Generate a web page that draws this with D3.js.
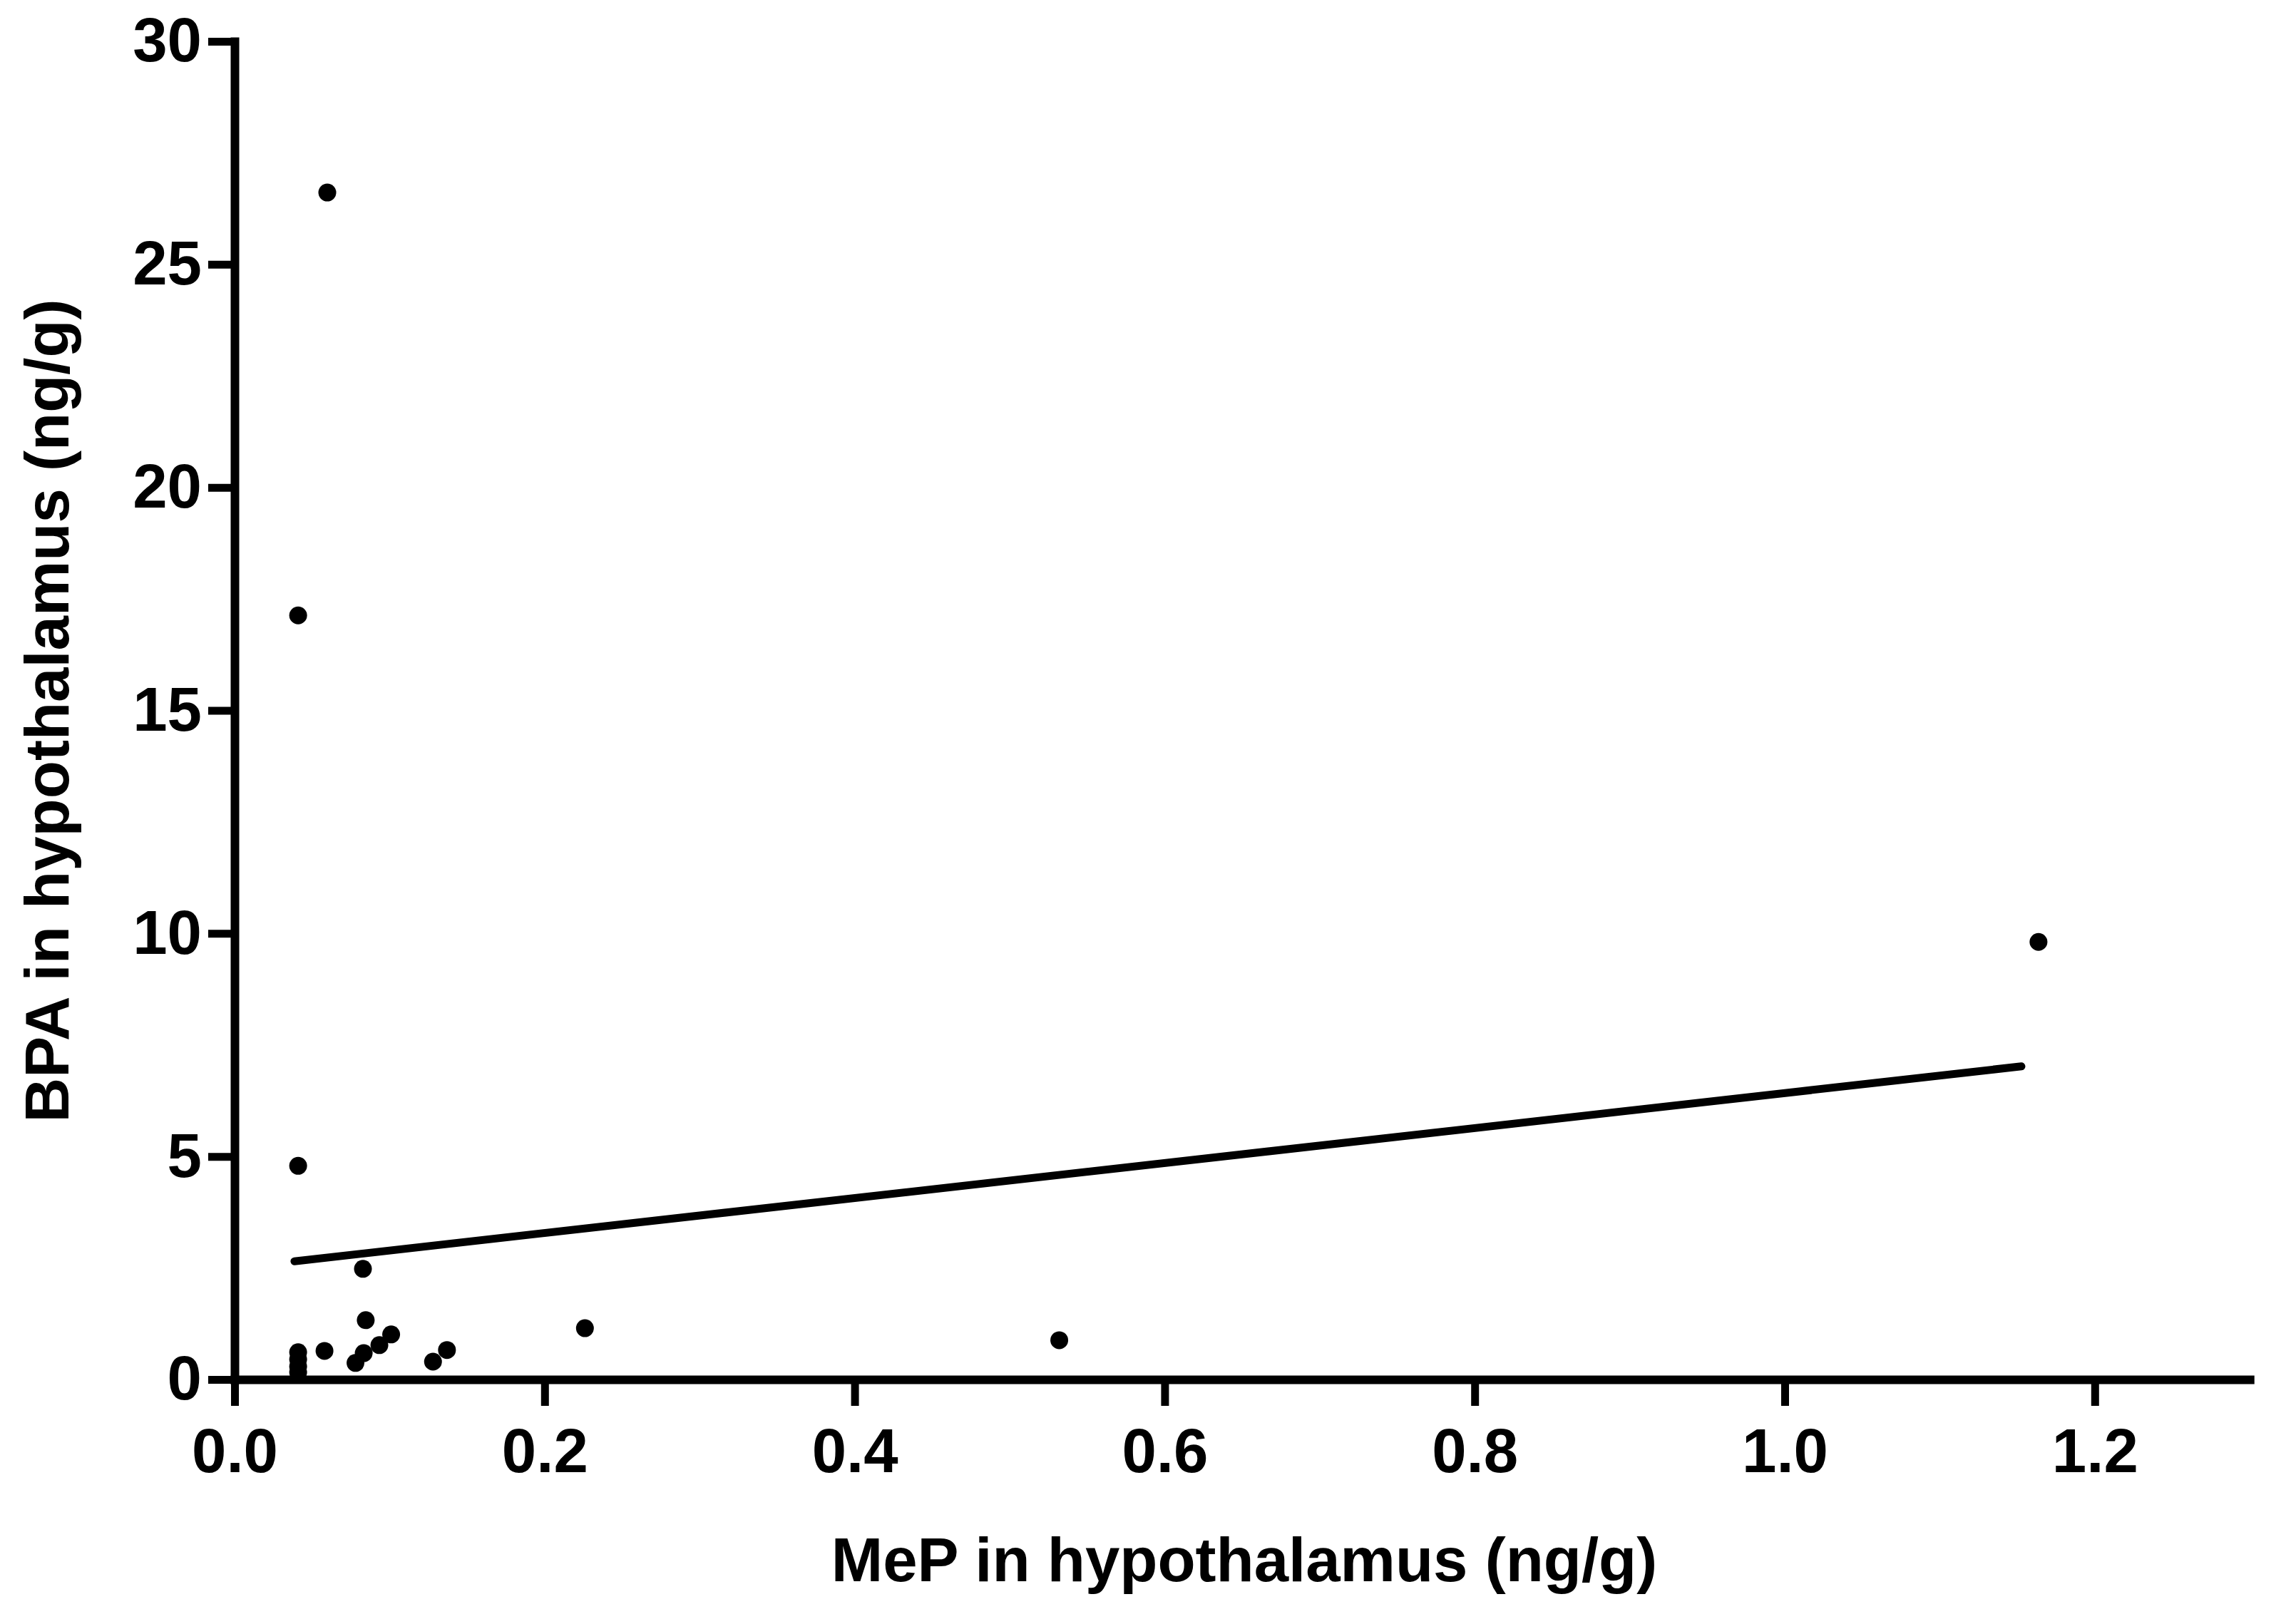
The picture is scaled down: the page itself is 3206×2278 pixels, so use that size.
<!DOCTYPE html>
<html>
<head>
<meta charset="utf-8">
<script src="https://cdn.jsdelivr.net/npm/d3@7"></script>
<style>
  html, body { margin: 0; padding: 0; background: #fff; }
  svg { display: block; }
</style>
</head>
<body>
<svg id="chart" width="3206" height="2278"></svg>
<script>
// ---- Data ----
const mepValues = [0.0598, 0.041, 0.041, 1.1637, 0.532, 0.226, 0.0828, 0.0846, 0.058, 0.101,
                   0.0934, 0.0833, 0.078, 0.137, 0.128, 0.041, 0.041, 0.041, 0.041];
const bpaValues = [26.61, 17.13, 4.79, 9.81, 0.88, 1.15, 2.48, 1.33, 0.64, 1.01,
                   0.77, 0.59, 0.37, 0.66, 0.40, 0.61, 0.45, 0.29, 0.16];
const fitX = [0.0386, 1.1527];
const fitY = [2.65, 7.02];
const xTicks = [0, 0.2, 0.4, 0.6, 0.8, 1.0, 1.2];
const yTicks = [0, 5, 10, 15, 20, 25, 30];
const xTitle = "MeP in hypothalamus (ng/g)";
const yTitle = "BPA in hypothalamus (ng/g)";

// ---- Layout ----
const plotLeft = 329, plotTop = 58, plotBottom = 1935;
const xMax = 1.3;
const pxPerX = 2174;
const FONT = "'Liberation Sans', Arial, sans-serif";

const svg = d3.select("#chart");
svg.append("rect").attr("width", 3206).attr("height", 2278).attr("fill", "#fff");

const x = d3.scaleLinear().domain([0, xMax]).range([plotLeft, plotLeft + xMax * pxPerX]);
const y = d3.scaleLinear().domain([0, 30]).range([plotBottom, plotTop]);

const tickLen = 37;

// X axis
const xAxis = d3.axisBottom(x)
  .tickValues(xTicks)
  .tickFormat(d3.format(".1f"))
  .tickSize(tickLen)
  .tickSizeOuter(0)
  .tickPadding(31);
const gx = svg.append("g").attr("transform", `translate(0,${plotBottom})`).call(xAxis);

// Y axis
const yAxis = d3.axisLeft(y)
  .tickValues(yTicks)
  .tickFormat(d3.format("d"))
  .tickSize(tickLen)
  .tickSizeOuter(0)
  .tickPadding(9);
const gy = svg.append("g").attr("transform", `translate(${plotLeft},0)`).call(yAxis);

[gx, gy].forEach(g => {
  g.select(".domain").attr("stroke", "#000").attr("stroke-width", 12).attr("stroke-linecap", "square");
  g.selectAll(".tick line").attr("stroke", "#000").attr("stroke-width", 11);
  g.selectAll(".tick text")
    .attr("fill", "#000")
    .style("font-family", FONT)
    .style("font-weight", "bold")
    .style("font-size", "87px");
});

// Regression line
const line = d3.line().x(d => x(d[0])).y(d => y(d[1]));
svg.append("path")
  .datum(d3.zip(fitX, fitY))
  .attr("d", line)
  .attr("fill", "none")
  .attr("stroke", "#000")
  .attr("stroke-width", 11)
  .attr("stroke-linecap", "round");

// Points
svg.append("g").selectAll("circle")
  .data(d3.zip(mepValues, bpaValues))
  .join("circle")
  .attr("cx", d => x(d[0]))
  .attr("cy", d => y(d[1]))
  .attr("r", 12.5)
  .attr("fill", "#000");

// Axis titles
svg.append("text")
  .attr("x", 1745)
  .attr("y", 2218)
  .attr("text-anchor", "middle")
  .style("font-family", FONT)
  .style("font-weight", "bold")
  .style("font-size", "87px")
  .attr("fill", "#000")
  .text(xTitle);

svg.append("text")
  .attr("transform", "translate(96,997) rotate(-90)")
  .attr("text-anchor", "middle")
  .style("font-family", FONT)
  .style("font-weight", "bold")
  .style("font-size", "87px")
  .attr("fill", "#000")
  .text(yTitle);
</script>
</body>
</html>
